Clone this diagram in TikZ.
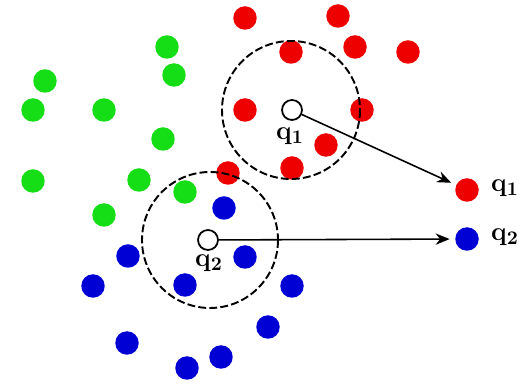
\documentclass[tikz,border=0pt]{standalone}
\usepackage{amsmath}
\usepackage{amssymb}
\usepackage{xcolor}
\usetikzlibrary{arrows.meta}

\tikzset{
  dot/.style={circle,inner sep=0pt,minimum size=0.47cm},
  query/.style={circle,draw=black,line width=1pt,fill=white,inner sep=0pt,minimum size=0.4cm},
  nbhd/.style={draw=black,line width=1.1pt,dash pattern=on 4.5pt off 1.8pt},
  qlabel/.style={font=\fontsize{15}{17}\selectfont\bfseries},
  link/.style={line width=0.9pt,-{Stealth[length=8pt,width=6.5pt]},shorten >=3pt}
}

\begin{document}
\begin{tikzpicture}[x=0.02cm,y=-0.02cm]
  \definecolor{dotred}{RGB}{238,0,0}
  \definecolor{dotgreen}{RGB}{22,222,22}
  \definecolor{dotblue}{RGB}{0,0,212}
  \useasboundingbox (0,0) rectangle (521,384);
  \foreach \x/\y [count=\i] in {167/47,174/75,45/81,33/110,104/110,163/139,33/181,139/180,185/192,104/215}{%
    \node[dot,fill=dotgreen] (g\i) at (\x,\y) {};
  }
  \foreach \x/\y [count=\i] in {245/18,338/16,291/52,355/47,408/52,245/110,362/110,326/145,292/168,228/173}{%
    \node[dot,fill=dotred] (r\i) at (\x,\y) {};
  }
  \foreach \x/\y [count=\i] in {224/208,128/256,93/286,185/285,245/257,292/286,268/327,127/343,187/368,221/357}{%
    \node[dot,fill=dotblue] (b\i) at (\x,\y) {};
  }
  \draw[nbhd] (291,110) circle[radius=69];
  \draw[nbhd] (210,240) circle[radius=68];
  \node[query] (q1) at (292,110) {};
  \node[query] (q2) at (208,240) {};
  \node[qlabel] (q1lab) at (290,136) {q$_{\boldsymbol 1}$};
  \node[qlabel] (q2lab) at (209,263) {q$_{\boldsymbol 2}$};
  \node[dot,fill=dotred] (c1) at (467,190) {};
  \node[dot,fill=dotblue] (c2) at (467,239) {};
  \node[qlabel,anchor=west] (c1lab) at (485,188) {q$_{\boldsymbol 1}$};
  \node[qlabel,anchor=west] (c2lab) at (485,237) {q$_{\boldsymbol 2}$};
  \draw[link] (q1) -- (c1);
  \draw[link] (q2) -- (c2);
\end{tikzpicture}
\end{document}
